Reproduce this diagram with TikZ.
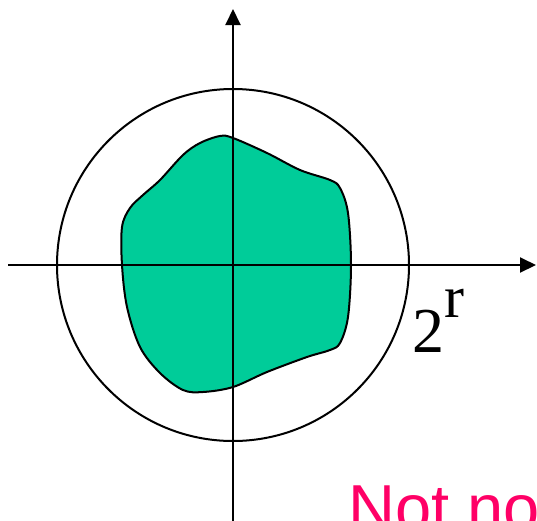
\documentclass[tikz,border=0pt]{standalone}
\usepackage{fontspec}
\setmainfont{Liberation Serif}
\newfontfamily\labelsans{Liberation Sans}
\usetikzlibrary{arrows.meta}
\definecolor{blobgreen}{RGB}{0,204,153}
\definecolor{notpink}{RGB}{255,0,102}
\tikzset{
  axisline/.style={line width=2pt,-{Triangle[length=16pt,width=15pt]}},
  outline/.style={line width=2pt},
}
\begin{document}
\begin{tikzpicture}[x=1pt,y=-1pt]
\useasboundingbox (0,0) rectangle (537,520);
% blob
\fill[blobgreen] plot[smooth cycle,tension=0.55] coordinates {
 (220,136) (233,138) (267,153) (300,170) (330,180) (340,188) (348,213)
 (351,265) (348,317) (340,343) (330,350) (307,357) (267,372) (233,387)
 (203,392) (183,390) (160,373) (140,347) (127,307) (122,265) (122,227)
 (130,208) (143,195) (160,180) (183,155) (200,143)};
\draw[outline] plot[smooth cycle,tension=0.55] coordinates {
 (220,136) (233,138) (267,153) (300,170) (330,180) (340,188) (348,213)
 (351,265) (348,317) (340,343) (330,350) (307,357) (267,372) (233,387)
 (203,392) (183,390) (160,373) (140,347) (127,307) (122,265) (122,227)
 (130,208) (143,195) (160,180) (183,155) (200,143)};
% circle
\coordinate (o) at (233,265);
\draw[outline] (o) circle[radius=176];
% axes
\coordinate (xl) at (8,265);
\coordinate (xr) at (536,265);
\coordinate (yb) at (233,521);
\coordinate (yt) at (233,9);
\draw[axisline] (xl) -- (xr);
\draw[axisline] (yb) -- (yt);
% labels
\node[anchor=base west,inner sep=0pt,font=\fontsize{64}{64}\selectfont] (two) at (412,352) {2};
\node[anchor=base west,inner sep=0pt,font=\fontsize{60}{60}\selectfont] (r) at (two.base east) [yshift=35pt] {r};
\node[anchor=base west,inner sep=0pt,text=notpink,font=\labelsans\fontsize{65}{65}\selectfont] (nn) at (348,530) {Not no};
\end{tikzpicture}
\end{document}
